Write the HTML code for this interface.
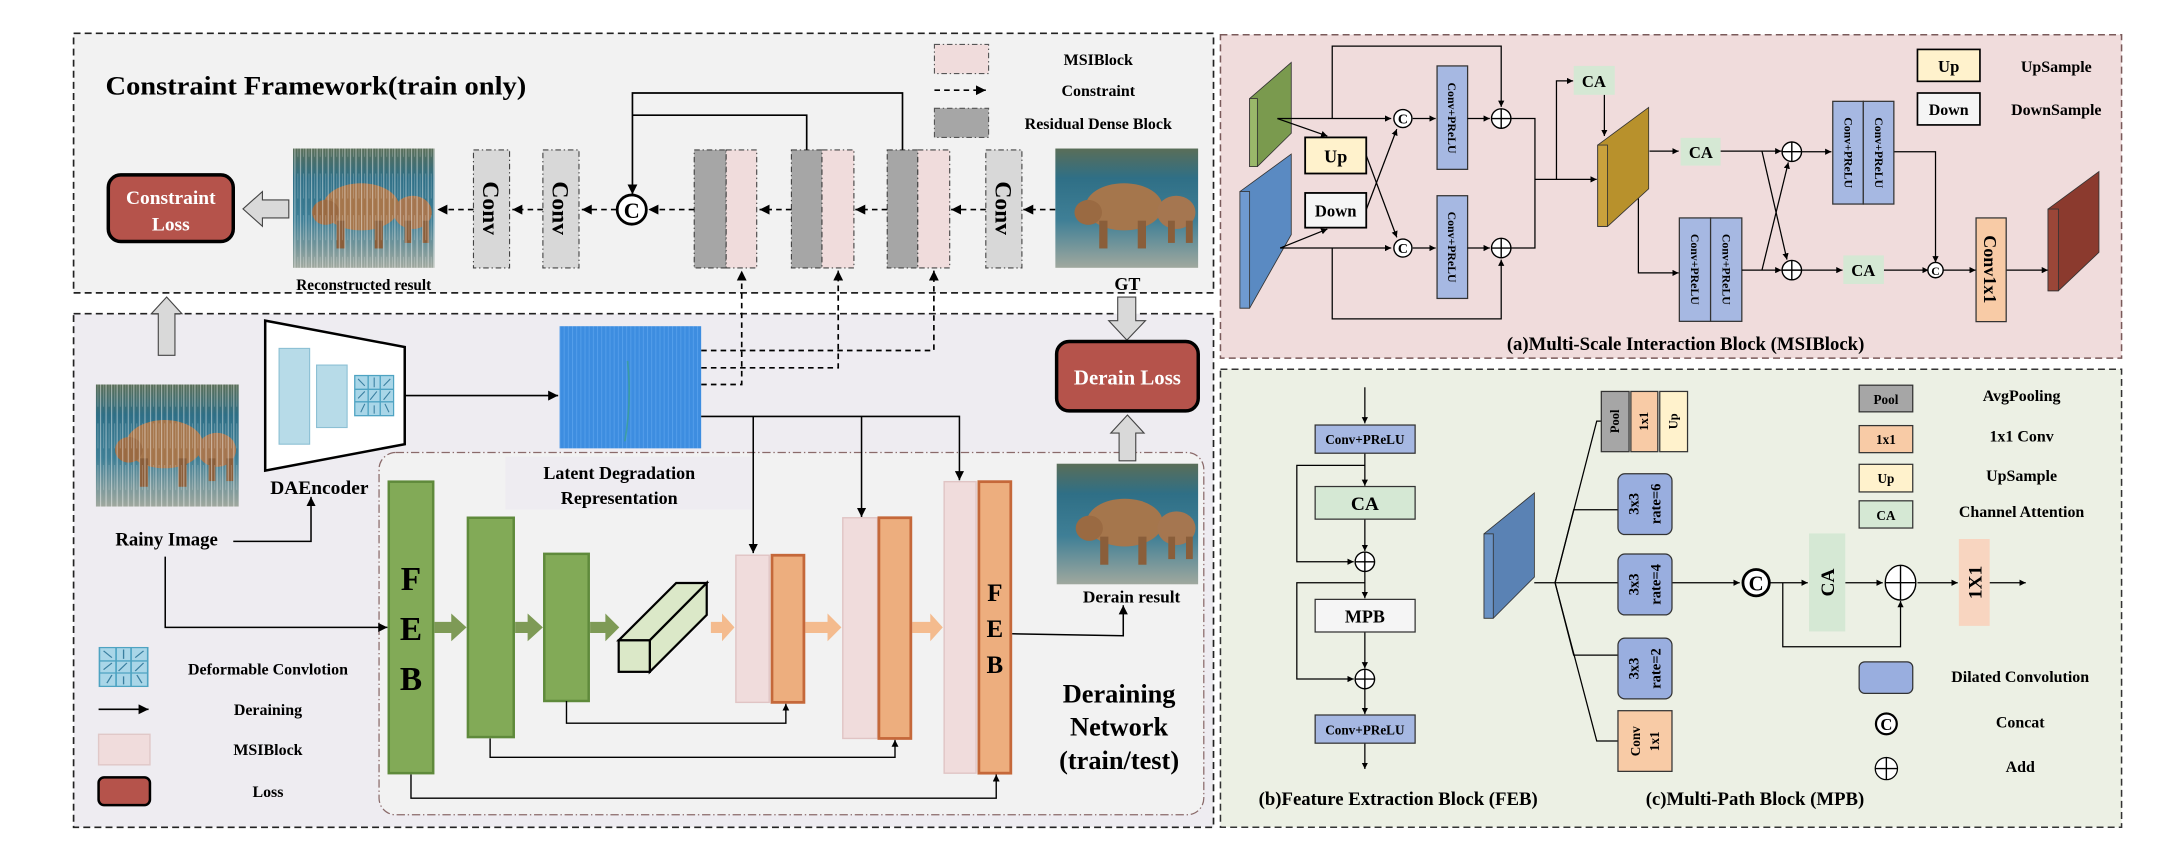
<!DOCTYPE html>
<html><head><meta charset="utf-8"><style>
html,body{margin:0;padding:0;background:#fff;}
svg{display:block}
text{font-family:"Liberation Serif",serif;font-weight:bold;fill:#000}
</style></head><body>
<svg width="2166" height="862" viewBox="0 0 1560 621" preserveAspectRatio="none" xmlns="http://www.w3.org/2000/svg">
<defs>
<marker id="a" viewBox="0 0 10 10" refX="10" refY="5" markerWidth="6" markerHeight="6" orient="auto"><path d="M0,0L10,5L0,10z" fill="#000"/></marker>
<marker id="as" viewBox="0 0 10 10" refX="10" refY="5" markerWidth="5" markerHeight="5" orient="auto"><path d="M0,0L10,5L0,10z" fill="#000"/></marker>
<linearGradient id="bg" x1="0" y1="0" x2="0" y2="1">
<stop offset="0" stop-color="#5a6e58"/><stop offset="0.25" stop-color="#2f6f86"/><stop offset="0.6" stop-color="#3f7f96"/><stop offset="1" stop-color="#a0a89e"/></linearGradient>
<pattern id="rain" width="4" height="30" patternUnits="userSpaceOnUse"><rect x="0" y="0" width="0.8" height="30" fill="#fff" opacity="0.45"/><rect x="2.3" y="5" width="0.5" height="18" fill="#fff" opacity="0.3"/></pattern>
<pattern id="lat" width="3" height="20" patternUnits="userSpaceOnUse"><rect width="3" height="20" fill="#3d8de0"/><rect x="1" width="0.7" height="20" fill="#5ea6ee" opacity="0.7"/></pattern>
<symbol id="bear" viewBox="0 0 104 86" preserveAspectRatio="none">
<rect width="104" height="86" fill="url(#bg)"/>
<ellipse cx="50" cy="42" rx="28" ry="17" fill="#a5764c"/>
<ellipse cx="24" cy="46" rx="10" ry="9" fill="#9a6a42"/>
<rect x="32" y="52" width="6" height="20" fill="#8a5e3a"/><rect x="60" y="52" width="6" height="20" fill="#8a5e3a"/>
<ellipse cx="88" cy="46" rx="14" ry="12" fill="#a57650"/>
<rect x="82" y="52" width="5" height="16" fill="#8a5e3a"/><rect x="95" y="52" width="5" height="16" fill="#8a5e3a"/>
</symbol>
<symbol id="grid" viewBox="0 0 30 30" preserveAspectRatio="none">
<rect x="0.5" y="0.5" width="29" height="29" fill="#a9d6e8" stroke="#4ea3c2"/>
<path d="M10.5 0.5V29.5M19.5 0.5V29.5M0.5 10.5H29.5M0.5 19.5H29.5" stroke="#4ea3c2" stroke-width="1"/>
<path d="M3 3l5 5M15 2v7M27 3l-5 5M3 17l5-5M12 18l5-6M22 18l5-6M5 27l3-6M15 22v6M26 27l-3-6" stroke="#3a7fa0" stroke-width="0.8"/>
</symbol>
</defs>

<!-- Top-left panel -->
<rect x="53" y="24" width="821" height="187" fill="#f2f2f2" stroke="#222" stroke-width="1.2" stroke-dasharray="5,3"/>
<!-- Bottom-left panel -->
<rect x="53" y="226" width="821" height="370" fill="#eeecf1" stroke="#222" stroke-width="1.2" stroke-dasharray="5,3"/>
<rect x="273" y="326" width="594" height="261" rx="12" fill="#f2f2f2" stroke="#8a6a6a" stroke-width="0.9" stroke-dasharray="6,2,1,2"/>
<!-- Right panels -->
<rect x="879" y="25" width="649" height="233" fill="#f0dcdc" stroke="#7a5a5a" stroke-width="1.1" stroke-dasharray="5,3"/>
<rect x="879" y="266" width="649" height="330" fill="#ecf0e4" stroke="#333" stroke-width="1.1" stroke-dasharray="5,3"/>

<!-- ===== Constraint framework ===== -->
<text x="76" y="68" font-size="19" textLength="303" lengthAdjust="spacingAndGlyphs">Constraint Framework(train only)</text>
<rect x="673" y="32" width="39" height="21" fill="#f0dcdc" stroke="#555" stroke-width="0.8" stroke-dasharray="4,2,1,2"/>
<text x="791" y="47" font-size="11.5" text-anchor="middle">MSIBlock</text>
<line x1="673" y1="65" x2="710" y2="65" stroke="#000" stroke-width="1.2" stroke-dasharray="4,3" marker-end="url(#a)"/>
<text x="791" y="69" font-size="11.5" text-anchor="middle">Constraint</text>
<rect x="673" y="78" width="39" height="21" fill="#a6a6a6" stroke="#555" stroke-width="0.8" stroke-dasharray="4,2,1,2"/>
<text x="791" y="93" font-size="11.5" text-anchor="middle">Residual Dense Block</text>

<rect x="78" y="126" width="90" height="48" rx="9" fill="#b5534b" stroke="#000" stroke-width="2.5"/>
<text x="123" y="147" font-size="14" text-anchor="middle" fill="#fff" style="fill:#fff">Constraint</text>
<text x="123" y="166" font-size="14" text-anchor="middle" style="fill:#fff">Loss</text>
<polygon points="175,150.5 189,138 189,144 208,144 208,157 189,157 189,163" fill="#d9d9d9" stroke="#444" stroke-width="0.8"/>

<use href="#bear" x="211" y="107" width="102" height="86"/>
<rect x="211" y="107" width="102" height="86" fill="url(#rain)"/>
<text x="262" y="209" font-size="11" text-anchor="middle">Reconstructed result</text>

<g stroke="#444" stroke-width="0.8" stroke-dasharray="4,2,1,2">
<rect x="341" y="108" width="26" height="85" fill="#d8d8d8"/>
<rect x="391" y="108" width="26" height="85" fill="#d8d8d8"/>
<rect x="710" y="108" width="26" height="85" fill="#d8d8d8"/>
<rect x="500" y="108" width="23" height="85" fill="#a6a6a6"/><rect x="523" y="108" width="22" height="85" fill="#f0dcdc"/>
<rect x="570" y="108" width="22" height="85" fill="#a6a6a6"/><rect x="592" y="108" width="23" height="85" fill="#f0dcdc"/>
<rect x="639" y="108" width="22" height="85" fill="#a6a6a6"/><rect x="661" y="108" width="23" height="85" fill="#f0dcdc"/>
</g>
<text transform="translate(348,150) rotate(90)" font-size="17" text-anchor="middle">Conv</text>
<text transform="translate(398,150) rotate(90)" font-size="17" text-anchor="middle">Conv</text>
<text transform="translate(717,150) rotate(90)" font-size="17" text-anchor="middle">Conv</text>

<circle cx="455" cy="151" r="10.5" fill="#fff" stroke="#000" stroke-width="2"/>
<text x="455" y="157" font-size="16" text-anchor="middle">C</text>

<use href="#bear" x="760" y="107" width="103" height="86"/>
<text x="812" y="209" font-size="13" text-anchor="middle">GT</text>

<g stroke="#000" stroke-width="1.2" stroke-dasharray="4,3" fill="none">
<line x1="760" y1="151" x2="737" y2="151" marker-end="url(#a)"/>
<line x1="710" y1="151" x2="685" y2="151" marker-end="url(#a)"/>
<line x1="639" y1="151" x2="616" y2="151" marker-end="url(#a)"/>
<line x1="570" y1="151" x2="547" y2="151" marker-end="url(#a)"/>
<line x1="500" y1="151" x2="467" y2="151" marker-end="url(#a)"/>
<line x1="444" y1="151" x2="419" y2="151" marker-end="url(#a)"/>
<line x1="391" y1="151" x2="369" y2="151" marker-end="url(#a)"/>
<line x1="341" y1="151" x2="315" y2="151" marker-end="url(#a)"/>
<polyline points="505,252.5 672.6,252.5 672.6,195" marker-end="url(#a)"/>
<polyline points="505,265 603.7,265 603.7,195" marker-end="url(#a)"/>
<polyline points="505,277 534.2,277 534.2,195" marker-end="url(#a)"/>
</g>
<g stroke="#000" stroke-width="1.2" fill="none">
<polyline points="650,108 650,67 455.5,67 455.5,140" marker-end="url(#a)"/>
<polyline points="581,108 581,83 455.5,83"/>
</g>

<!-- hollow arrows -->
<polygon points="120,214 131,226 126,226 126,256 114,256 114,226 109,226" fill="#d9d9d9" stroke="#444" stroke-width="0.8"/>
<polygon points="811.6,245 825,231 818,231 818,214 805,214 805,231 798.5,231" fill="#d9d9d9" stroke="#444" stroke-width="0.8"/>
<polygon points="812,299 824,312 818,312 818,332 806,332 806,312 800,312" fill="#d9d9d9" stroke="#444" stroke-width="0.8"/>

<!-- ===== Deraining network ===== -->
<use href="#bear" x="69" y="277" width="103" height="88"/>
<rect x="69" y="277" width="103" height="88" fill="url(#rain)"/>
<text x="120" y="393" font-size="13.5" text-anchor="middle">Rainy Image</text>
<polyline points="168,390 224,390 224,358" fill="none" stroke="#000" stroke-width="1.1" marker-end="url(#a)"/>
<polyline points="119,401 119,452 279,452" fill="none" stroke="#000" stroke-width="1.1" marker-end="url(#a)"/>

<polygon points="191,231 291.5,250 291.5,320 191,339" fill="#fff" stroke="#000" stroke-width="1.8"/>
<rect x="201" y="251" width="22" height="69" fill="#b7dbe8" stroke="#8cc0d4" stroke-width="0.8"/>
<rect x="228" y="263" width="22" height="45" fill="#b7dbe8" stroke="#8cc0d4" stroke-width="0.8"/>
<use href="#grid" x="255" y="270" width="29" height="30"/>
<text x="230" y="356" font-size="14" text-anchor="middle">DAEncoder</text>
<line x1="292" y1="285" x2="402" y2="285" stroke="#000" stroke-width="1.2" marker-end="url(#a)"/>

<rect x="403" y="235" width="102" height="88" fill="url(#lat)"/>
<path d="M452 260 Q455 290 450 318" stroke="#3aa38a" stroke-width="1.2" fill="none" opacity="0.7"/>
<rect x="364" y="329" width="177" height="38" fill="#eeecf1"/>
<text x="446" y="345" font-size="13" text-anchor="middle">Latent Degradation</text>
<text x="446" y="363" font-size="13" text-anchor="middle">Representation</text>

<g stroke="#000" stroke-width="1.1" fill="none">
<polyline points="505,300 691,300 691,346"  marker-end="url(#a)"/>
<line x1="542.5" y1="300" x2="542.5" y2="398.5" marker-end="url(#a)"/>
<line x1="620.5" y1="300" x2="620.5" y2="372.5" marker-end="url(#a)"/>
</g>

<!-- green blocks -->
<g fill="#82aa57" stroke="#5f8a3b" stroke-width="1.8">
<rect x="280" y="347" width="32" height="210"/>
<rect x="337" y="373" width="33" height="158"/>
<rect x="392" y="399" width="32" height="106"/>
</g>
<text x="296" y="425" font-size="24" text-anchor="middle">F</text>
<text x="296" y="461" font-size="24" text-anchor="middle">E</text>
<text x="296" y="497" font-size="24" text-anchor="middle">B</text>
<g fill="#7e9a56">
<polygon points="313,448 325,448 325,442 336,452 325,462 325,456 313,456"/>
<polygon points="371,448 380,448 380,442 391,452 380,462 380,456 371,456"/>
<polygon points="425,448 436,448 436,442 446,452 436,462 436,456 425,456"/>
</g>
<!-- 3D box -->
<polygon points="445.6,461.3 468,461.3 509,420 487,420" fill="#dbe8c8" stroke="#000" stroke-width="1.6"/>
<polygon points="468,461.3 509,420 509,443 468,484" fill="#dbe8c8" stroke="#000" stroke-width="1.6"/>
<rect x="445.6" y="461.3" width="22.4" height="22.7" fill="#dbe8c8" stroke="#000" stroke-width="1.6"/>
<g fill="#f4bb8e">
<polygon points="512,448 520,448 520,442 529,452 520,462 520,456 512,456"/>
<polygon points="580,448 596,448 596,442 606,452 596,462 596,456 580,456"/>
<polygon points="657,448 670,448 670,442 679,452 670,462 670,456 657,456"/>
</g>
<!-- pink / orange -->
<g fill="#f0dcdc" stroke="#e0c4c4" stroke-width="1">
<rect x="530" y="400" width="24" height="106"/>
<rect x="607" y="373" width="25" height="159"/>
<rect x="680" y="347" width="23" height="210"/>
</g>
<g fill="#edae7e" stroke="#c5683a" stroke-width="2">
<rect x="556" y="400" width="23" height="106"/>
<rect x="633" y="373" width="23" height="159"/>
<rect x="705" y="347" width="23" height="210"/>
</g>
<text x="716.5" y="433" font-size="18" text-anchor="middle">F</text>
<text x="716.5" y="459" font-size="18" text-anchor="middle">E</text>
<text x="716.5" y="485" font-size="18" text-anchor="middle">B</text>
<g stroke="#000" stroke-width="1" fill="none">
<polyline points="408,505 408,521 566,521 566,507" marker-end="url(#as)"/>
<polyline points="353,532 353,545.6 644.6,545.6 644.6,533" marker-end="url(#as)"/>
<polyline points="296,558 296,575 717.5,575 717.5,558" marker-end="url(#as)"/>
<polyline points="729,456.6 809,458 809,436" stroke-width="1.1" marker-end="url(#a)"/>
</g>

<rect x="761" y="246" width="102" height="50" rx="9" fill="#b5534b" stroke="#000" stroke-width="2.5"/>
<text x="812" y="277" font-size="15" text-anchor="middle" style="fill:#fff">Derain Loss</text>
<use href="#bear" x="761" y="334" width="102" height="87"/>
<text x="815" y="434" font-size="12.5" text-anchor="middle">Derain result</text>
<text x="806" y="506" font-size="19" text-anchor="middle">Deraining</text>
<text x="806" y="530" font-size="19" text-anchor="middle">Network</text>
<text x="806" y="554" font-size="19" text-anchor="middle">(train/test)</text>

<!-- legend bottom left -->
<use href="#grid" x="71" y="466" width="36" height="29"/>
<text x="193" y="486" font-size="11.5" text-anchor="middle">Deformable Convlotion</text>
<line x1="71" y1="511" x2="107" y2="511" stroke="#000" stroke-width="1.2" marker-end="url(#a)"/>
<text x="193" y="515" font-size="11.5" text-anchor="middle">Deraining</text>
<rect x="71" y="529" width="37" height="22" fill="#f0dcdc" stroke="#e0c8c8"/>
<text x="193" y="544" font-size="11.5" text-anchor="middle">MSIBlock</text>
<rect x="71" y="560" width="37" height="20" rx="4" fill="#b5534b" stroke="#000" stroke-width="1.8"/>
<text x="193" y="574" font-size="11.5" text-anchor="middle">Loss</text>

<!-- ===== (a) MSIBlock ===== -->
<polygon points="900,71 930,45 930,96 905.6,120 900,120" fill="#7a9a4e" stroke="#333" stroke-width="0.6"/>
<rect x="900" y="71" width="5.6" height="49" fill="#9ab86a" stroke="#333" stroke-width="0.6"/>
<polygon points="893,138 930,111 930,169 900,222 893,222" fill="#5a8ac2" stroke="#333" stroke-width="0.6"/>
<rect x="893" y="138" width="7" height="84" fill="#6f9ad0" stroke="#333" stroke-width="0.6"/>
<rect x="940" y="99" width="44" height="26" fill="#fff2cc" stroke="#000" stroke-width="1.3"/>
<text x="962" y="117" font-size="13" text-anchor="middle">Up</text>
<rect x="940" y="139" width="44" height="25" fill="#f5f5f5" stroke="#000" stroke-width="1.3"/>
<text x="962" y="156" font-size="12" text-anchor="middle">Down</text>
<g fill="#a6b8e2" stroke="#333" stroke-width="0.9">
<rect x="1035" y="47.5" width="22" height="74.5"/><rect x="1035" y="141" width="22" height="74"/>
<rect x="1209.5" y="157" width="22.5" height="74.5"/><rect x="1232" y="157" width="22.5" height="74.5"/>
<rect x="1320" y="73" width="22" height="74"/><rect x="1342" y="73" width="22" height="74"/>
</g>
<g font-size="8.5">
<text transform="translate(1043,85) rotate(90)" text-anchor="middle">Conv+PReLU</text>
<text transform="translate(1043,178) rotate(90)" text-anchor="middle">Conv+PReLU</text>
<text transform="translate(1218,194) rotate(90)" text-anchor="middle">Conv+PReLU</text>
<text transform="translate(1240.5,194) rotate(90)" text-anchor="middle">Conv+PReLU</text>
<text transform="translate(1328.5,110) rotate(90)" text-anchor="middle">Conv+PReLU</text>
<text transform="translate(1350.5,110) rotate(90)" text-anchor="middle">Conv+PReLU</text>
</g>
<g stroke="#000" stroke-width="0.9" fill="none">
<line x1="920" y1="85.4" x2="1002" y2="85.4" marker-end="url(#as)"/>
<line x1="920" y1="85.4" x2="956" y2="98" marker-end="url(#as)"/>
<line x1="922" y1="178.7" x2="1002" y2="178.7" marker-end="url(#as)"/>
<line x1="922" y1="178.7" x2="956" y2="165" marker-end="url(#as)"/>
<line x1="984" y1="112" x2="1006" y2="171" marker-end="url(#as)"/>
<line x1="984" y1="151" x2="1006" y2="93" marker-end="url(#as)"/>
<line x1="1017.5" y1="85.4" x2="1034" y2="85.4" marker-end="url(#as)"/>
<line x1="1017.5" y1="178.7" x2="1034" y2="178.7" marker-end="url(#as)"/>
<line x1="1057" y1="85.4" x2="1073" y2="85.4" marker-end="url(#as)"/>
<line x1="1057" y1="178.7" x2="1073" y2="178.7" marker-end="url(#as)"/>
<polyline points="959.5,85.4 959.5,33.2 1081.2,33.2 1081.2,77" marker-end="url(#as)"/>
<polyline points="959.5,178.7 959.5,229.7 1081.2,229.7 1081.2,187" marker-end="url(#as)"/>
<polyline points="1088.5,85.4 1105.5,85.4 1105.5,178.7 1088.5,178.7"/>
<line x1="1105.5" y1="129.2" x2="1150" y2="129.2" marker-end="url(#as)"/>
<polyline points="1121,129.2 1121,58.3 1133,58.3" marker-end="url(#as)"/>
<line x1="1155.5" y1="68.3" x2="1155.5" y2="98" marker-end="url(#as)"/>
<line x1="1188" y1="108.9" x2="1209" y2="108.9" marker-end="url(#as)"/>
<polyline points="1180,143 1180,196.6 1209,196.6" marker-end="url(#as)"/>
<polyline points="1239.2,108.9 1283,108.9" marker-end="url(#as)"/>
<polyline points="1254.6,194.6 1283,194.6" marker-end="url(#as)"/>
<line x1="1269" y1="108.9" x2="1287" y2="187" marker-end="url(#as)"/>
<line x1="1269" y1="194.6" x2="1288" y2="117" marker-end="url(#as)"/>
<line x1="1297.5" y1="109.3" x2="1319" y2="109.3" marker-end="url(#as)"/>
<line x1="1297.5" y1="194.6" x2="1327" y2="194.6" marker-end="url(#as)"/>
<polyline points="1364.4,109.3 1394,109.3 1394,189" marker-end="url(#as)"/>
<line x1="1356.8" y1="194.6" x2="1389" y2="194.6" marker-end="url(#as)"/>
<line x1="1399.5" y1="194.6" x2="1423" y2="194.6" marker-end="url(#as)"/>
<line x1="1445" y1="194.6" x2="1475" y2="194.6" marker-end="url(#as)"/>
</g>
<g fill="#fff" stroke="#000" stroke-width="1">
<circle cx="1010.4" cy="85.4" r="6.5"/><circle cx="1010.4" cy="178.7" r="6.5"/>
<circle cx="1394" cy="194.6" r="5.5"/>
</g>
<g font-size="10" text-anchor="middle"><text x="1010.4" y="89">C</text><text x="1010.4" y="182.3">C</text><text x="1394" y="198" font-size="8.5">C</text></g>
<g fill="#fff" stroke="#000" stroke-width="1">
<circle cx="1081.2" cy="85.4" r="7"/><circle cx="1081.2" cy="178.7" r="7"/>
<circle cx="1290.5" cy="109.3" r="7"/><circle cx="1290.5" cy="194.6" r="7"/>
</g>
<path d="M1074.2 85.4h14M1081.2 78.4v14M1074.2 178.7h14M1081.2 171.7v14M1283.5 109.3h14M1290.5 102.3v14M1283.5 194.6h14M1290.5 187.6v14" stroke="#000" stroke-width="1"/>
<g fill="#d5e8d4">
<rect x="1133.4" y="47.5" width="29.6" height="20.8"/>
<rect x="1210.4" y="99.3" width="28.8" height="20"/>
<rect x="1327.6" y="184" width="29.2" height="20.6"/>
</g>
<g font-size="12" text-anchor="middle"><text x="1148" y="62.5">CA</text><text x="1225" y="114">CA</text><text x="1342" y="199">CA</text></g>
<polygon points="1150.7,104.5 1187.4,77.4 1187.4,136 1157.8,163.1 1150.7,163.1" fill="#b8912c" stroke="#333" stroke-width="0.6"/>
<rect x="1150.7" y="104.5" width="7" height="58.6" fill="#c9a13c" stroke="#333" stroke-width="0.6"/>
<rect x="1423.2" y="157" width="21.7" height="74.7" fill="#f8cba6" stroke="#333" stroke-width="0.9"/>
<text transform="translate(1429,194) rotate(90)" font-size="13" text-anchor="middle">Conv1x1</text>
<polygon points="1475,150.6 1511.7,123.6 1511.7,181.8 1482.5,209.5 1475,209.5" fill="#8b3a2e" stroke="#333" stroke-width="0.6"/>
<rect x="1475" y="150.6" width="7.5" height="58.9" fill="#9a4638" stroke="#333" stroke-width="0.6"/>
<rect x="1381" y="35.6" width="45" height="23" fill="#fff2cc" stroke="#000" stroke-width="1.2"/>
<text x="1403.5" y="52" font-size="12" text-anchor="middle">Up</text>
<text x="1481" y="52" font-size="11.5" text-anchor="middle">UpSample</text>
<rect x="1381" y="67" width="45" height="23" fill="#f5f5f5" stroke="#000" stroke-width="1.2"/>
<text x="1403.5" y="83" font-size="11.5" text-anchor="middle">Down</text>
<text x="1481" y="83" font-size="11.5" text-anchor="middle">DownSample</text>
<text x="1214" y="252" font-size="13.5" text-anchor="middle">(a)Multi-Scale Interaction Block (MSIBlock)</text>

<!-- ===== (b) FEB ===== -->
<g stroke="#000" stroke-width="0.9" fill="none">
<line x1="983" y1="279" x2="983" y2="305" marker-end="url(#as)"/>
<line x1="983" y1="326.5" x2="983" y2="350" marker-end="url(#as)"/>
<line x1="983" y1="374" x2="983" y2="397" marker-end="url(#as)"/>
<polyline points="983,335.3 934,335.3 934,404.7 975,404.7" marker-end="url(#as)"/>
<line x1="983" y1="411.7" x2="983" y2="431" marker-end="url(#as)"/>
<line x1="983" y1="455.3" x2="983" y2="481.5" marker-end="url(#as)"/>
<polyline points="983,419.8 934,419.8 934,489.2 975,489.2" marker-end="url(#as)"/>
<line x1="983" y1="496.2" x2="983" y2="514.5" marker-end="url(#as)"/>
<line x1="983" y1="535.4" x2="983" y2="554" marker-end="url(#as)"/>
</g>
<rect x="947.2" y="306.2" width="72" height="20.3" fill="#a6b8e2" stroke="#333" stroke-width="0.9"/>
<text x="983" y="320" font-size="9.5" text-anchor="middle">Conv+PReLU</text>
<rect x="947.2" y="350.5" width="72" height="23.5" fill="#d5e8d4" stroke="#333" stroke-width="0.9"/>
<text x="983" y="367.5" font-size="14" text-anchor="middle">CA</text>
<rect x="947.2" y="431.8" width="72" height="23.5" fill="#f5f5f5" stroke="#333" stroke-width="0.9"/>
<text x="983" y="448.5" font-size="13" text-anchor="middle">MPB</text>
<rect x="947.2" y="515.1" width="72" height="20.3" fill="#a6b8e2" stroke="#333" stroke-width="0.9"/>
<text x="983" y="529" font-size="9.5" text-anchor="middle">Conv+PReLU</text>
<g fill="#fff" stroke="#000" stroke-width="1"><circle cx="983" cy="404.7" r="7"/><circle cx="983" cy="489.2" r="7"/></g>
<path d="M976 404.7h14M983 397.7v14M976 489.2h14M983 482.2v14" stroke="#000"/>
<text x="1007" y="580" font-size="13.5" text-anchor="middle">(b)Feature Extraction Block (FEB)</text>

<!-- ===== (c) MPB ===== -->
<polygon points="1068.8,384.6 1105.1,355.1 1105.1,415.7 1075.5,445.4 1068.8,445.4" fill="#5a82b4" stroke="#333" stroke-width="0.6"/>
<rect x="1068.8" y="384.6" width="6.7" height="60.8" fill="#6a92c4" stroke="#333" stroke-width="0.6"/>
<g stroke="#000" stroke-width="0.9" fill="none">
<line x1="1105" y1="419.8" x2="1120" y2="419.8"/>
<polyline points="1120,419.8 1150,303.4 1153.3,303.4"/>
<polyline points="1120,419.8 1133.4,367.2 1165.3,367.2"/>
<line x1="1120" y1="419.8" x2="1165.3" y2="419.8"/>
<polyline points="1120,419.8 1133.4,472 1165.3,472"/>
<polyline points="1120,419.8 1150,533.8 1165.3,533.8"/>
<line x1="1204.2" y1="419.8" x2="1253" y2="419.8" marker-end="url(#as)"/>
<line x1="1275" y1="419.8" x2="1302" y2="419.8" marker-end="url(#as)"/>
<polyline points="1284,419.8 1284,465.9 1368.8,465.9 1368.8,433" marker-end="url(#as)"/>
<line x1="1329" y1="419.8" x2="1356" y2="419.8" marker-end="url(#as)"/>
<line x1="1381" y1="419.8" x2="1410" y2="419.8" marker-end="url(#as)"/>
<line x1="1433" y1="419.8" x2="1459" y2="419.8" marker-end="url(#as)"/>
</g>
<rect x="1153.3" y="282" width="20" height="43.4" fill="#a6a6a6" stroke="#333" stroke-width="0.9"/>
<rect x="1174.6" y="282" width="19.4" height="43.4" fill="#f8cba6" stroke="#333" stroke-width="0.9"/>
<rect x="1195.4" y="282" width="20" height="43.4" fill="#fff2cc" stroke="#333" stroke-width="0.9"/>
<g font-size="9"><text transform="translate(1166,303.5) rotate(-90)" text-anchor="middle">Pool</text>
<text transform="translate(1187,303.5) rotate(-90)" text-anchor="middle">1x1</text>
<text transform="translate(1208,303.5) rotate(-90)" text-anchor="middle">Up</text></g>
<g fill="#99aedf" stroke="#333" stroke-width="0.9">
<rect x="1165.3" y="341.3" width="38.9" height="43.8" rx="5"/>
<rect x="1165.3" y="399.1" width="38.9" height="43.9" rx="5"/>
<rect x="1165.3" y="459.7" width="38.9" height="43.8" rx="5"/>
</g>
<rect x="1165.3" y="512" width="38.9" height="43.7" fill="#f8cba6" stroke="#333" stroke-width="0.9"/>
<g font-size="10.5" text-anchor="middle">
<text transform="translate(1180,363) rotate(-90)">3x3</text><text transform="translate(1196,363) rotate(-90)">rate=6</text>
<text transform="translate(1180,421) rotate(-90)">3x3</text><text transform="translate(1196,421) rotate(-90)">rate=4</text>
<text transform="translate(1180,481.6) rotate(-90)">3x3</text><text transform="translate(1196,481.6) rotate(-90)">rate=2</text>
<text transform="translate(1181,534) rotate(-90)" font-size="9.5">Conv</text><text transform="translate(1195,534) rotate(-90)" font-size="9.5">1x1</text>
</g>
<circle cx="1264.8" cy="419.8" r="9.5" fill="#fff" stroke="#000" stroke-width="2"/>
<text x="1264.8" y="425.5" font-size="15" text-anchor="middle">C</text>
<rect x="1302.9" y="384.3" width="26.1" height="70.6" fill="#d5e8d4"/>
<text transform="translate(1321,419.6) rotate(-90)" font-size="14" text-anchor="middle">CA</text>
<ellipse cx="1368.8" cy="419.8" rx="11" ry="12.5" fill="#fff" stroke="#000" stroke-width="1"/>
<path d="M1357.8 419.8h22M1368.8 407.3v25" stroke="#000"/>
<rect x="1410.8" y="388.3" width="22.2" height="62.6" fill="#f8d5c0"/>
<text transform="translate(1427,419.6) rotate(-90)" font-size="14" text-anchor="middle">1X1</text>

<rect x="1339" y="277.5" width="38.6" height="19.2" fill="#a6a6a6" stroke="#333" stroke-width="0.9"/>
<text x="1358.3" y="291" font-size="9.5" text-anchor="middle">Pool</text>
<text x="1456" y="289" font-size="11.5" text-anchor="middle">AvgPooling</text>
<rect x="1339" y="306.6" width="38.6" height="19.5" fill="#f8cba6" stroke="#333" stroke-width="0.9"/>
<text x="1358.3" y="320" font-size="9.5" text-anchor="middle">1x1</text>
<text x="1456" y="318" font-size="11.5" text-anchor="middle">1x1 Conv</text>
<rect x="1339" y="334.5" width="38.6" height="19.9" fill="#fff2cc" stroke="#333" stroke-width="0.9"/>
<text x="1358.3" y="348" font-size="9.5" text-anchor="middle">Up</text>
<text x="1456" y="346.5" font-size="11.5" text-anchor="middle">UpSample</text>
<rect x="1339" y="360.8" width="38.6" height="19.6" fill="#d5e8d4" stroke="#333" stroke-width="0.9"/>
<text x="1358.3" y="374.5" font-size="9.5" text-anchor="middle">CA</text>
<text x="1456" y="372.5" font-size="11.5" text-anchor="middle">Channel Attention</text>
<rect x="1339" y="476.8" width="38.6" height="22.7" rx="4" fill="#99aedf" stroke="#333" stroke-width="0.9"/>
<text x="1455" y="491.5" font-size="11.5" text-anchor="middle">Dilated Convolution</text>
<circle cx="1358.6" cy="521.5" r="7.5" fill="#fff" stroke="#000" stroke-width="1.6"/>
<text x="1358.6" y="526" font-size="12" text-anchor="middle">C</text>
<text x="1455" y="524" font-size="11.5" text-anchor="middle">Concat</text>
<circle cx="1358.6" cy="553.7" r="8" fill="#fff" stroke="#000" stroke-width="0.9"/>
<path d="M1350.6 553.7h16M1358.6 545.7v16" stroke="#000"/>
<text x="1455" y="556" font-size="11.5" text-anchor="middle">Add</text>
<text x="1264" y="580" font-size="13.5" text-anchor="middle">(c)Multi-Path Block (MPB)</text>
</svg>
</body></html>
